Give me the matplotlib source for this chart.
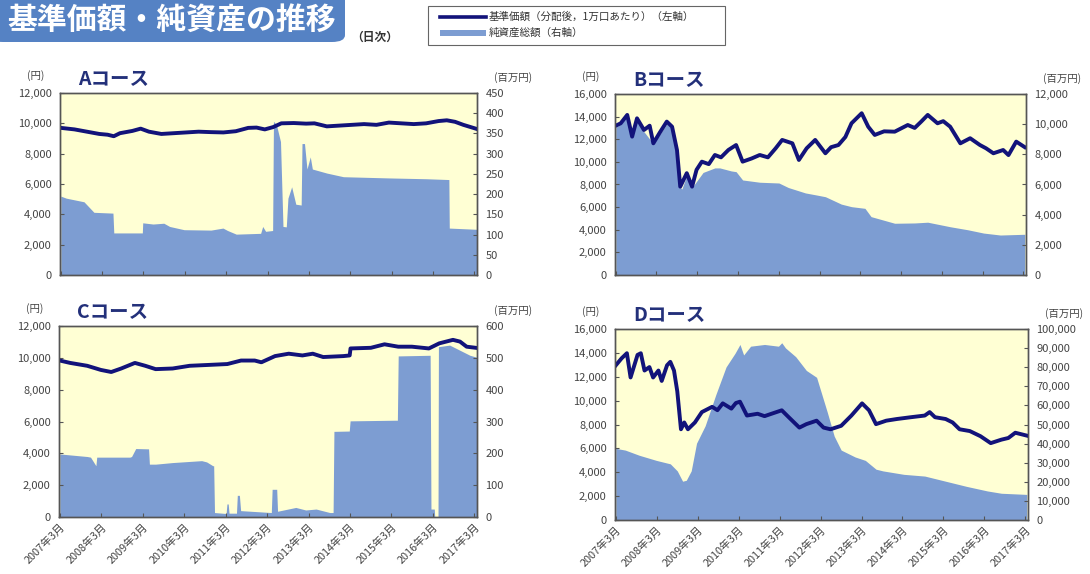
import matplotlib
matplotlib.use("Agg")
import matplotlib.pyplot as plt
from matplotlib.patches import FancyBboxPatch, Rectangle
from matplotlib.lines import Line2D
from matplotlib.ticker import FuncFormatter, FixedLocator

plt.rcParams['font.family'] = ['Noto Sans CJK JP', 'DejaVu Sans']

# ---------------- data (x = decimal year) ----------------
xticks = [2007 + i + 2 / 12 for i in range(11)]
xticklabels = [f"{2007 + i}年3月" for i in range(11)]

# A course
a_nav_t = [2007.17, 2007.5, 2007.8, 2008.1, 2008.3, 2008.45, 2008.6, 2008.9, 2009.1, 2009.3, 2009.6,
           2009.9, 2010.2, 2010.5, 2010.8, 2011.1, 2011.4, 2011.7, 2011.9, 2012.1, 2012.3, 2012.5,
           2012.8, 2013.1, 2013.3, 2013.6, 2013.9, 2014.2, 2014.5, 2014.8, 2015.1, 2015.4, 2015.7,
           2016.0, 2016.3, 2016.5, 2016.7, 2016.9, 2017.2]
a_nav = [9700, 9600, 9450, 9300, 9250, 9150, 9350, 9500, 9650, 9450, 9300,
         9350, 9400, 9450, 9420, 9400, 9480, 9700, 9720, 9600, 9750, 10000,
         10020, 9980, 10000, 9800, 9850, 9900, 9950, 9900, 10050, 10000, 9950,
         10000, 10150, 10200, 10100, 9900, 9650]
a_asset_t = [2007.17, 2007.3, 2007.73, 2007.97, 2008.43, 2008.45, 2009.14, 2009.15, 2009.4, 2009.66,
             2009.8, 2010.15, 2010.8, 2011.09, 2011.2, 2011.41, 2012.0, 2012.05, 2012.12, 2012.29,
             2012.31, 2012.38, 2012.48, 2012.54, 2012.62, 2012.66, 2012.75, 2012.85, 2012.98,
             2013.0, 2013.06, 2013.12, 2013.2, 2013.25, 2013.6, 2014.0, 2015.1, 2016.0, 2016.55,
             2016.56, 2017.22]
a_asset = [195, 190, 181, 155, 153, 104, 104, 129, 126, 128,
           120, 112, 111, 116, 110, 101, 103, 120, 108, 110,
           380, 372, 330, 120, 119, 190, 218, 175, 173,
           325, 325, 262, 292, 262, 252, 243, 240, 238, 236,
           116, 113]

# B course
b_nav_t = [2007.17, 2007.29, 2007.45, 2007.57, 2007.69, 2007.86, 2008.0, 2008.09, 2008.25, 2008.42,
           2008.55, 2008.67, 2008.75, 2008.91, 2009.04, 2009.15, 2009.28, 2009.45, 2009.6, 2009.75,
           2009.93, 2010.12, 2010.28, 2010.5, 2010.7, 2010.9, 2011.09, 2011.25, 2011.5, 2011.66,
           2011.85, 2012.06, 2012.31, 2012.45, 2012.63, 2012.8, 2012.95, 2013.2, 2013.36, 2013.52,
           2013.75, 2014.01, 2014.33, 2014.5, 2014.66, 2014.82, 2015.06, 2015.2, 2015.37, 2015.62,
           2015.86, 2016.1, 2016.25, 2016.43, 2016.67, 2016.8, 2016.99, 2017.2]
b_nav = [13200, 13410, 14150, 12230, 13850, 12820, 13200, 11640, 12600, 13560,
         13110, 11050, 7810, 9000, 7810, 9300, 10020, 9800, 10610, 10400,
         11050, 11490, 10020, 10300, 10610, 10400, 11200, 11940, 11640, 10170,
         11200, 11940, 10760, 11300, 11490, 12200, 13410, 14300, 13110, 12380,
         12700, 12670, 13260, 13000, 13560, 14150, 13410, 13600, 13110, 11640,
         12090, 11490, 11200, 10760, 11050, 10600, 11790, 11300]
b_asset_t = [2007.17, 2007.29, 2007.45, 2007.57, 2007.69, 2007.86, 2008.09, 2008.42, 2008.55, 2008.63,
             2008.72, 2008.79, 2008.91, 2009.04, 2009.31, 2009.6, 2009.72, 2010.0, 2010.12, 2010.28,
             2010.7, 2011.17, 2011.4, 2011.82, 2012.1, 2012.31, 2012.7, 2012.95, 2013.28, 2013.43,
             2014.01, 2014.5, 2014.82, 2015.37, 2015.8, 2016.19, 2016.6, 2017.2]
b_asset = [9800, 10000, 10500, 9100, 10300, 9500, 8700, 10000, 9800, 8200,
           5900, 5700, 6600, 5800, 6800, 7100, 7100, 6900, 6850, 6300,
           6150, 6100, 5800, 5440, 5300, 5190, 4700, 4530, 4420, 3870,
           3430, 3450, 3500, 3200, 3000, 2780, 2650, 2700]

# C course
c_nav_t = [2007.17, 2007.42, 2007.83, 2008.16, 2008.41, 2008.65, 2008.98, 2009.23, 2009.48, 2009.89,
           2010.3, 2010.72, 2011.21, 2011.54, 2011.87, 2012.03, 2012.36, 2012.69, 2013.02, 2013.27,
           2013.52, 2014.01, 2014.16, 2014.18, 2014.67, 2015.0, 2015.33, 2015.66, 2016.07, 2016.32,
           2016.65, 2016.82, 2016.98, 2017.2]
c_nav = [9830, 9680, 9500, 9240, 9110, 9330, 9680, 9500, 9290, 9330,
         9500, 9550, 9610, 9830, 9830, 9720, 10110, 10260, 10150, 10260,
         10050, 10110, 10150, 10590, 10630, 10850, 10700, 10700, 10590, 10910,
         11130, 11020, 10700, 10630]
c_asset_t = [2007.17, 2007.83, 2007.91, 2008.04, 2008.06, 2008.2, 2008.86, 2008.9, 2009.0, 2009.02,
             2009.31, 2009.33, 2009.48, 2009.89, 2010.59, 2010.71, 2010.86, 2010.88, 2010.9, 2011.18,
             2011.2, 2011.23, 2011.25, 2011.43, 2011.45, 2011.5, 2011.53, 2012.27, 2012.29, 2012.4,
             2012.42, 2012.86, 2013.1, 2013.35, 2013.68, 2013.76, 2013.78, 2014.15, 2014.17, 2015.25,
             2015.31, 2015.33, 2016.1, 2016.12, 2016.2, 2016.21, 2016.29, 2016.3, 2016.57, 2017.06,
             2017.22]
c_asset = [198, 190, 188, 161, 188, 188, 188, 190, 215, 215,
           214, 166, 166, 171, 177, 173, 161, 161, 14, 11,
           41, 41, 12, 12, 68, 68, 20, 14, 87, 87,
           18, 30, 22, 25, 14, 14, 269, 270, 302, 304,
           304, 506, 508, 25, 25, 0, 0, 535, 540, 508,
           502]

# D course
d_nav_t = [2007.17, 2007.31, 2007.44, 2007.53, 2007.7, 2007.78, 2007.87, 2007.99, 2008.08, 2008.21,
           2008.29, 2008.42, 2008.5, 2008.59, 2008.67, 2008.76, 2008.84, 2008.93, 2009.1, 2009.27,
           2009.52, 2009.65, 2009.78, 2009.99, 2010.1, 2010.2, 2010.37, 2010.63, 2010.8, 2010.97,
           2011.22, 2011.39, 2011.65, 2011.82, 2012.07, 2012.24, 2012.41, 2012.67, 2012.92, 2013.18,
           2013.35, 2013.52, 2013.77, 2014.03, 2014.37, 2014.71, 2014.83, 2014.96, 2015.22, 2015.39,
           2015.56, 2015.81, 2016.07, 2016.32, 2016.58, 2016.75, 2016.92, 2017.2]
d_nav = [12960, 13540, 13970, 11940, 13830, 13970, 12520, 12810, 11940, 12520,
         11650, 12960, 13250, 12520, 10780, 7600, 8170, 7600, 8170, 9040,
         9480, 9200, 9770, 9330, 9800, 9910, 8750, 8900, 8700, 8900,
         9190, 8610, 7740, 8030, 8320, 7740, 7600, 7890, 8750, 9770,
         9190, 8030, 8320, 8460, 8610, 8750, 9040, 8610, 8460, 8170,
         7600, 7450, 7020, 6440, 6730, 6870, 7310, 7070]
d_asset_t = [2007.17, 2007.4, 2007.74, 2008.16, 2008.5, 2008.67, 2008.8, 2008.89, 2009.01, 2009.14,
             2009.35, 2009.61, 2009.86, 2010.08, 2010.2, 2010.29, 2010.46, 2010.8, 2011.14, 2011.22,
             2011.31, 2011.56, 2011.82, 2012.07, 2012.2, 2012.33, 2012.5, 2012.67, 2013.01, 2013.26,
             2013.52, 2013.69, 2014.2, 2014.71, 2015.22, 2015.73, 2016.24, 2016.58, 2017.2]
d_asset = [37500, 36600, 33900, 31200, 29400, 25700, 20300, 20800, 25700, 40200,
           49300, 65600, 80100, 87300, 91900, 86400, 91000, 91900, 91000, 92800,
           90100, 85500, 78300, 74700, 65600, 56500, 43900, 36600, 33000, 31200,
           26600, 25700, 23900, 23000, 20300, 17600, 15200, 14000, 13400]

# ---------------- styles ----------------
BG = '#FFFFD4'
AREA = '#7D9DD2'
LINE = '#12137A'
NAVY = '#23307A'
TXT = '#444444'

fig = plt.figure(figsize=(10.9, 5.74), dpi=100)
fig.patch.set_facecolor('white')

W, H = 1090, 574


def fx(px):
    return px / W


def fy(py):
    return 1 - py / H


comma = FuncFormatter(lambda v, p: f"{int(v):,}")


def panel(l, t, r, b, title, nav_t, nav, ast_t, ast, lmax, lstep, rmax, rstep, show_x):
    ax2 = fig.add_axes([fx(l), fy(b), fx(r - l), (b - t) / H])
    ax2.set_xlim(2007.15, 2017.23)
    ax2.set_xticks(xticks)
    ax = ax2.twinx()
    ax2.set_facecolor(BG)
    ax2.fill_between(ast_t, ast, 0, color=AREA, lw=0)
    ax.plot(nav_t, nav, color=LINE, lw=2.8, solid_joinstyle='round')
    ax2.yaxis.tick_right()
    ax.yaxis.tick_left()
    ax.yaxis.set_label_position('left')
    for a in (ax, ax2):
        for s in a.spines.values():
            s.set_color('#555555')
            s.set_linewidth(1.0)
    ax.set_ylim(0, lmax)
    ax.yaxis.set_major_locator(FixedLocator(list(range(0, lmax + 1, lstep))))
    ax.yaxis.set_major_formatter(comma)
    ax2.set_ylim(0, rmax)
    ax2.yaxis.set_major_locator(FixedLocator(list(range(0, rmax + 1, rstep))))
    ax2.yaxis.set_major_formatter(comma)
    ax.tick_params(axis='y', direction='in', length=3, labelsize=8, colors='#555555',
                   labelcolor=TXT, pad=6, left=True, right=False, labelleft=True, labelright=False)
    ax2.tick_params(axis='y', direction='in', length=3, labelsize=8, colors='#555555',
                    labelcolor=TXT, pad=6, left=False, right=True, labelleft=False, labelright=True)
    ax.tick_params(axis='x', bottom=False, top=False, labelbottom=False, labeltop=False)
    ax2.tick_params(axis='x', direction='in', length=3, colors='#555555')
    if show_x:
        ax2.set_xticklabels(xticklabels, rotation=45, ha='right', rotation_mode='anchor',
                            fontsize=7.8, color=TXT)
    else:
        ax2.tick_params(axis='x', labelbottom=False)
    fig.text(fx(l + 18), fy(t - 13), title, fontsize=14, fontweight='bold', color=NAVY,
             ha='left', va='center')
    fig.text(fx(l - 24), fy(t - 17), '(円)', fontsize=7.5, color=TXT, ha='center', va='center')
    fig.text(fx(r + 36), fy(t - 15), '(百万円)', fontsize=7.5, color=TXT, ha='center', va='center')
    return ax, ax2


panel(60, 93, 477, 275, 'Aコース', a_nav_t, a_nav, a_asset_t, a_asset, 12000, 2000, 450, 50, False)
panel(615, 94, 1026, 275, 'Bコース', b_nav_t, b_nav, b_asset_t, b_asset, 16000, 2000, 12000, 2000, False)
panel(59, 326, 477, 517, 'Cコース', c_nav_t, c_nav, c_asset_t, c_asset, 12000, 2000, 600, 100, True)
panel(615, 329, 1028, 520, 'Dコース', d_nav_t, d_nav, d_asset_t, d_asset, 16000, 2000, 100000, 10000, True)

# ---------------- header ----------------
box = FancyBboxPatch((fx(-10), fy(42)), fx(355), (42 + 10) / H,
                     boxstyle='round,pad=0,rounding_size=0.012', transform=fig.transFigure,
                     facecolor='#5582C4', edgecolor='none')
fig.patches.append(box)
fig.text(fx(172), fy(20), '基準価額・純資産の推移', fontsize=21.5, fontweight='bold',
         color='white', ha='center', va='center')
fig.text(fx(375), fy(37), '（日次）', fontsize=8.5, fontweight='bold', color='#333333',
         ha='center', va='center')

leg = Rectangle((fx(428), fy(45)), fx(297), 39 / H, transform=fig.transFigure,
                facecolor='white', edgecolor='#666666', lw=0.8)
fig.patches.append(leg)
fig.lines.append(Line2D([fx(440), fx(486)], [fy(17), fy(17)], transform=fig.transFigure,
                        color=LINE, lw=2.6))
fig.patches.append(Rectangle((fx(440), fy(36)), fx(46), 6 / H, transform=fig.transFigure,
                             facecolor=AREA, edgecolor='none'))
fig.text(fx(489), fy(17), '基準価額（分配後，1万口あたり）（左軸）', fontsize=7.6, color='#333333',
         ha='left', va='center')
fig.text(fx(489), fy(33), '純資産総額（右軸）', fontsize=7.6, color='#333333', ha='left', va='center')

fig.savefig('out.png', dpi=100, facecolor='white')
